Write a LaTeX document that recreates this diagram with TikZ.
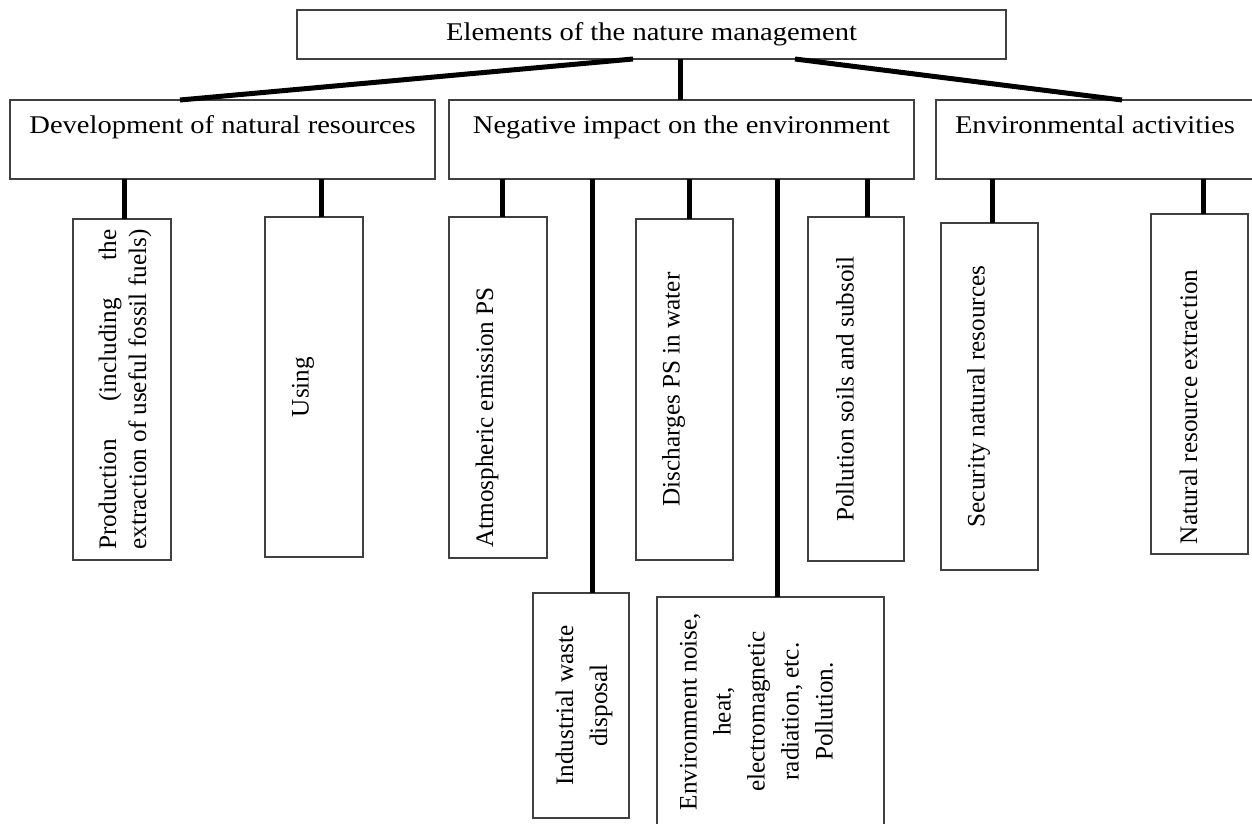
\documentclass[tikz,border=0pt]{standalone}
\usepackage{fontspec}
\setmainfont{Liberation Serif}
\usepackage{graphicx}
% rotated text: width, sideways shift, alignment, text
\newcommand{\uptext}[4]{\hspace*{#2}\rotatebox{90}{\parbox{#1}{#3#4}}}
\newcommand{\widetext}[1]{\scalebox{1.12}[1]{#1}}

\begin{document}
\begin{tikzpicture}[x=1pt,y=-1pt,
  box/.style={draw=black!75,line width=1.5pt,rectangle,inner sep=0pt,outer sep=0pt},
  headbox/.style={box,font=\fontsize{25.5}{30}\selectfont,align=center},
  vbox/.style={box,font=\fontsize{25.2}{30}\selectfont},
  lowbox/.style={box,font=\fontsize{25.2}{34}\selectfont},
  link/.style={line width=5pt}]
\useasboundingbox (0,0) rectangle (1252,823);
%% top
\node[headbox,minimum width=709,minimum height=49] (elem) at (651.5,34.5) {\widetext{Elements of the nature management}};
%% second row
\node[headbox,minimum width=425,minimum height=79] (dev) at (222.5,139.5) {\widetext{Development of natural resources}\\~};
\node[headbox,minimum width=465,minimum height=79] (neg) at (681.5,139.5) {\widetext{Negative impact on the environment}\\~};
\node[headbox,minimum width=318,minimum height=79] (act) at (1095,139.5) {\widetext{Environmental activities}\\~};
%% third row
\node[vbox,minimum width=98,minimum height=341] (prod) at (122,389.5)
  {\uptext{320pt}{6pt}{}{Production\hfill(including\hfill the\\extraction of useful fossil fuels)}};
\node[vbox,minimum width=98,minimum height=340] (use) at (314,387) {\uptext{320pt}{-22pt}{\centering}{Using}};
\node[vbox,minimum width=98,minimum height=341] (atm) at (498,387.5) {\uptext{320pt}{-22pt}{\raggedright}{Atmospheric emission PS}};
\node[vbox,minimum width=97,minimum height=341] (dis) at (684.5,389.5) {\uptext{320pt}{-22pt}{\centering}{Discharges PS in water}};
\node[vbox,minimum width=96,minimum height=344] (pol) at (856,389) {\uptext{320pt}{-22pt}{\centering}{Pollution soils and subsoil}};
\node[vbox,minimum width=97,minimum height=347] (sec) at (989.5,396.5) {\uptext{320pt}{-22pt}{\centering}{Security natural resources}};
\node[vbox,minimum width=97,minimum height=340] (ext) at (1199.5,384) {\uptext{320pt}{-22pt}{\raggedright}{Natural resource extraction}};
%% lower boxes
\node[lowbox,minimum width=96,minimum height=225] (ind) at (581,705.5) {\uptext{200pt}{6pt}{\centering}{Industrial waste\\disposal}};
\node[lowbox,minimum width=227,minimum height=229] (env) at (770.5,711.5)
  {\uptext{210pt}{-28pt}{\centering}{Environment noise,\\heat,\\electromagnetic\\radiation, etc.\\Pollution.}};
%% links
\draw[link] ([xshift=-18.5pt]elem.south) -- ([xshift=-42.5pt]dev.north);
\draw[link] ([xshift=28.5pt]elem.south) -- ([xshift=28.5pt]elem.south |- neg.north);
\draw[link] ([xshift=143.5pt]elem.south) -- ([xshift=27pt]act.north);
\foreach \b/\p/\dx in {prod/dev/2,use/dev/7,atm/neg/4,ind/neg/11,dis/neg/4.5,
                       env/neg/6.5,pol/neg/11,sec/act/2.5,ext/act/3.5}
  \draw[link] ([xshift=\dx pt]\b.north) -- ([xshift=\dx pt]\b.north |- \p.south);
\end{tikzpicture}
\end{document}
